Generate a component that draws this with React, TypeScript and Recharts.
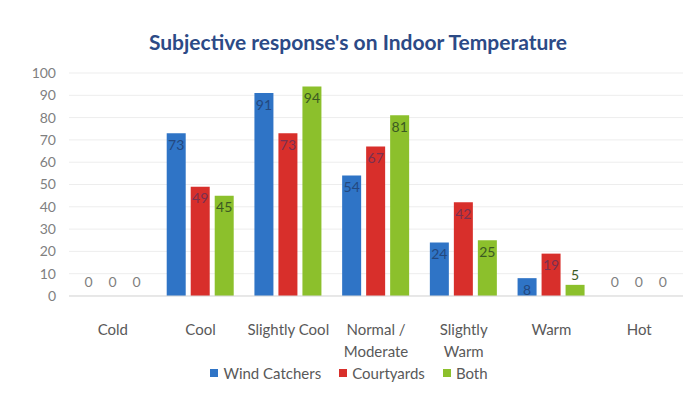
import React from 'react';
import { BarChart, Bar, XAxis, YAxis, CartesianGrid, Legend, LabelList, Rectangle } from 'recharts';

const CATEGORIES = ['Cold', 'Cool', 'Slightly Cool', 'Normal / Moderate', 'Slightly Warm', 'Warm', 'Hot'];
const TICK_LINES = [['Cold'], ['Cool'], ['Slightly Cool'], ['Normal /', 'Moderate'], ['Slightly', 'Warm'], ['Warm'], ['Hot']];
const WIND_CATCHERS = [0, 73, 91, 54, 24, 8, 0];
const COURTYARDS = [0, 49, 73, 67, 42, 19, 0];
const BOTH = [0, 45, 94, 81, 25, 5, 0];
const Y_TICKS = [0, 10, 20, 30, 40, 50, 60, 70, 80, 90, 100];

const SERIES = [
  { key: 'wind', name: 'Wind Catchers', fill: '#2f74c6', label: '#23487f' },
  { key: 'court', name: 'Courtyards', fill: '#d82f2b', label: '#7a3050' },
  { key: 'both', name: 'Both', fill: '#8cc02c', label: '#3b5a22' },
];

const data = CATEGORIES.map((name, i) => ({
  name,
  wind: WIND_CATCHERS[i],
  court: COURTYARDS[i],
  both: BOTH[i],
}));

const FONT = 'Lato, "Open Sans", sans-serif';

const CategoryTick = (props: any) => {
  const { x, y, payload } = props;
  const lines = TICK_LINES[payload.index] ?? [payload.value];
  return (
    <g transform={`translate(${x},${y})`}>
      {lines.map((line: string, i: number) => (
        <text key={i} x={0} y={27 + i * 22} textAnchor="middle" dominantBaseline="middle"
          fill="#595959" fontSize={15} fontFamily={FONT}>
          {line}
        </text>
      ))}
    </g>
  );
};

// zero values still get a 1px slot (minPointSize) so the label shows; the rect itself is skipped
const BarShape = (props: any) => {
  const { value } = props;
  const v = Array.isArray(value) ? value[1] - value[0] : value;
  if (!v) return <g />;
  return <Rectangle {...props} />;
};

// value labels sit just inside the top of each bar; zeros float above the baseline
const makeLabel = (color: string) => (props: any) => {
  const { x, y, width, height, value } = props;
  const cx = x + width / 2;
  if (value === 0) {
    return (
      <text x={cx} y={y + height - 13} textAnchor="middle" dominantBaseline="middle" fill="#7f7f7f" fontSize={14} fontFamily={FONT}>
        0
      </text>
    );
  }
  const ty = height < 16 ? y - 8 : y + 13;
  return (
    <text x={cx} y={ty} textAnchor="middle" dominantBaseline="middle" fill={color} fontSize={14} fontFamily={FONT}>
      {value}
    </text>
  );
};

const LegendContent = () => (
  <div style={{ display: 'flex', justifyContent: 'center', gap: 18, paddingTop: 8, paddingLeft: 15, fontSize: 15, fontFamily: FONT, color: '#595959' }}>
    {SERIES.map((s) => (
      <span key={s.key} style={{ display: 'flex', alignItems: 'center' }}>
        <span style={{ display: 'inline-block', width: 8, height: 8, background: s.fill, marginRight: 5 }} />
        {s.name}
      </span>
    ))}
  </div>
);

const App: React.FC = () => {
  return (
    <div style={{ position: 'absolute', left: 0, top: 0, width: 698, height: 395, background: '#fff', fontFamily: FONT }}>
      <div style={{ position: 'absolute', top: 29, left: 0, width: 716, textAlign: 'center', fontSize: 21, fontWeight: 700, color: '#2c4a86' }}>
        Subjective response's on Indoor Temperature
      </div>
      <BarChart
        width={698}
        height={395}
        data={data}
        margin={{ top: 73, right: 15, left: 0, bottom: 0 }}
        barCategoryGap={10}
        barGap={5}
      >
        <CartesianGrid vertical={false} stroke="#ededed" />
        <XAxis dataKey="name" interval={0} height={60} tick={<CategoryTick />} tickLine={false} axisLine={{ stroke: '#d9d9d9' }} />
        <YAxis width={69} domain={[0, 100]} ticks={Y_TICKS} interval={0} tickSize={0} tickMargin={13} axisLine={false}
          tick={{ fill: '#7f7f7f', fontSize: 14, fontFamily: FONT }} />
        <Legend verticalAlign="bottom" height={39} content={<LegendContent />} />
        {SERIES.map((s) => (
          <Bar key={s.key} dataKey={s.key} name={s.name} fill={s.fill} barSize={19} minPointSize={1}
            shape={<BarShape />} isAnimationActive={false}>
            <LabelList dataKey={s.key} content={makeLabel(s.label)} />
          </Bar>
        ))}
      </BarChart>
    </div>
  );
};

export default App;
